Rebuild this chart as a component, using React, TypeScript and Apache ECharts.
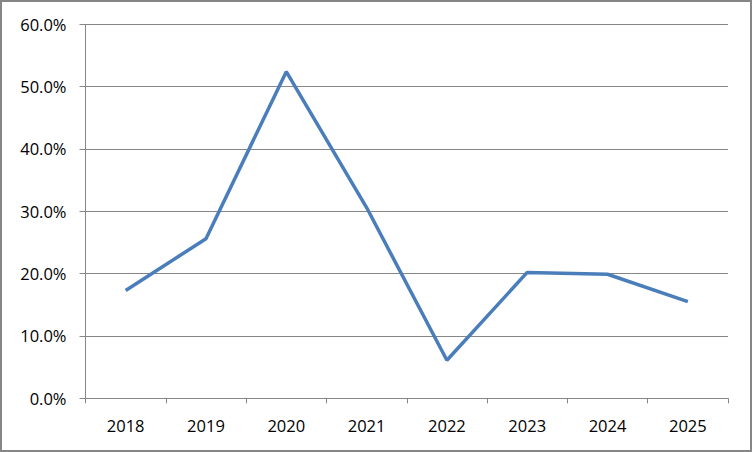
import React, { useEffect, useRef } from "react";
import * as echarts from "echarts";

const categories = ["2018", "2019", "2020", "2021", "2022", "2023", "2024", "2025"];
const values = [17.3, 25.6, 52.4, 30.6, 6.1, 20.2, 19.9, 15.5];

export default function App() {
  const ref = useRef<HTMLDivElement>(null);
  useEffect(() => {
    document.body.style.margin = "0";
    const chart = echarts.init(ref.current!, null, { renderer: "svg" });
    chart.setOption({
      animation: false,
      backgroundColor: "#ffffff",
      graphic: [
        {
          type: "rect",
          shape: { x: 1, y: 1, width: 750, height: 450 },
          style: { fill: "none", stroke: "#868686", lineWidth: 2 },
          silent: true,
        },
      ],
      grid: { left: 85.5, right: 24, top: 24.3, bottom: 53.7, containLabel: false },
      xAxis: {
        type: "category",
        data: categories,
        boundaryGap: true,
        axisLine: { lineStyle: { color: "#868686", width: 1 } },
        axisTick: { show: true, alignWithLabel: false, length: 5, lineStyle: { color: "#868686" } },
        axisLabel: { color: "#000", fontSize: 16.5, fontFamily: "Open Sans, Liberation Sans, sans-serif", margin: 19 },
      },
      yAxis: {
        type: "value",
        min: 0,
        max: 60,
        interval: 10,
        axisLine: { show: true, lineStyle: { color: "#868686", width: 1 } },
        axisTick: { show: true, length: 6, lineStyle: { color: "#868686" } },
        splitLine: { show: true, lineStyle: { color: "#868686", width: 1 } },
        axisLabel: {
          color: "#000",
          fontSize: 16.5,
          fontFamily: "Open Sans, Liberation Sans, sans-serif",
          margin: 19,
          formatter: (v: number) => v.toFixed(1) + "%",
        },
      },
      series: [
        {
          type: "line",
          data: values,
          showSymbol: false,
          symbol: "none",
          lineStyle: { color: "#4A7EBB", width: 3.5 },
        },
      ],
    });
    return () => chart.dispose();
  }, []);
  return <div ref={ref} style={{ position: "absolute", left: 0, top: 0, width: 752, height: 452 }} />;
}
